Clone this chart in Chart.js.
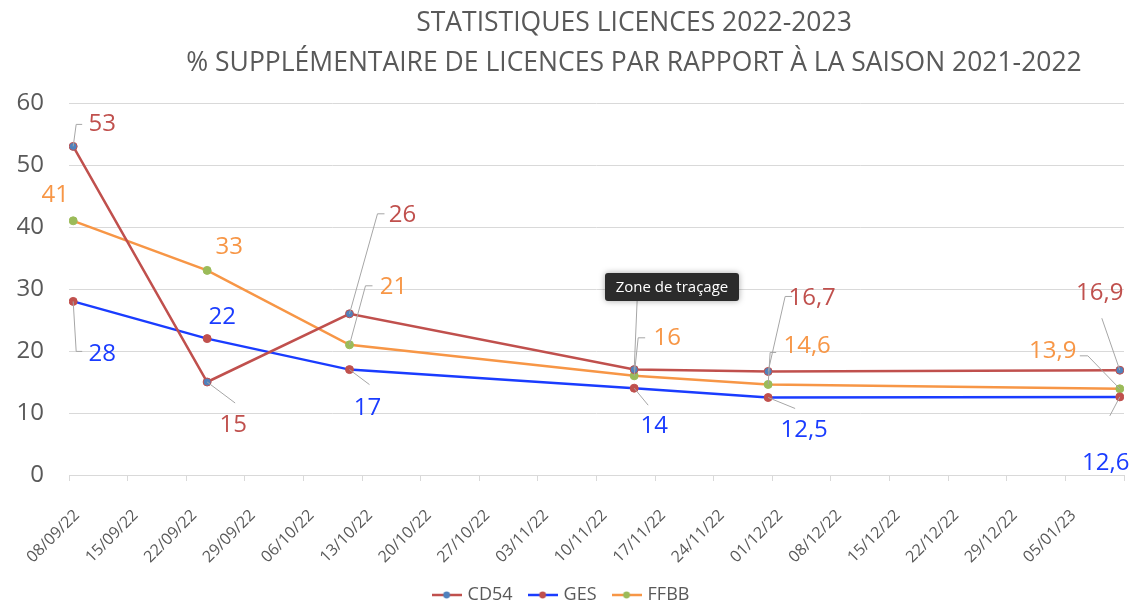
<!DOCTYPE html>
<html lang="fr">
<head>
<meta charset="utf-8">
<title>Statistiques licences 2022-2023</title>
<script src="https://cdn.jsdelivr.net/npm/chart.js@4.4.1/dist/chart.umd.min.js"></script>
<style>
  html, body { margin: 0; padding: 0; background: #fff; }
  #cadre { width: 1137px; height: 602px; position: relative; }
</style>
</head>
<body>
<div id="cadre"><canvas id="graphique"></canvas></div>
<script>
// dates des relevés (axe des dates, pas de 7 jours)
const dates = ['2022-09-08', '2022-09-24', '2022-10-11', '2022-11-14', '2022-11-30', '2023-01-11'];
const cd54 = [53, 15, 26, 17, 16.7, 16.9];
const ges = [28, 22, 17, 14, 12.5, 12.6];
const ffbb = [41, 33, 21, 16, 14.6, 13.9];
const nomsSeries = ['CD54', 'GES', 'FFBB'];
const debutAxe = '2022-09-08';
const finAxe = '2023-01-12';
const titre = ['STATISTIQUES LICENCES 2022-2023', '% SUPPLÉMENTAIRE DE LICENCES PAR RAPPORT À LA SAISON 2021-2022'];
const bulle = 'Zone de traçage';

const JOUR = 86400000;
function jours(d) {
    return (Date.parse(d) - Date.parse(debutAxe)) / JOUR;
}
function formatDate(v) {
    const d = new Date(Date.parse(debutAxe) + v * JOUR);
    const jj = String(d.getUTCDate()).padStart(2, '0');
    const mm = String(d.getUTCMonth() + 1).padStart(2, '0');
    return jj + '/' + mm + '/' + String(d.getUTCFullYear()).slice(2);
}
// Excel place le point au milieu du jour
function points(valeurs) {
    return valeurs.map((v, i) => ({ x: jours(dates[i]) + 0.5, y: v }));
}

const gris = '#595959';
const couleurs = {
    ligne: ['#C0504D', '#1a3cff', '#F79646'],
    point: ['#4F81BD', '#C0504D', '#9BBB59'],
    bordPoint: ['#C0504D', '#C0504D', '#9BBB59'],
    etiquette: ['#C0504D', '#1a3cff', '#F79646']
};

// position des étiquettes (décalage par rapport au point) et traits de rappel
const etiquettes = [
    [
        { dx: 29, dy: -22, lien: [[3, -22], [9, -22]] },
        { dx: 26, dy: 43, lien: [[28, 21]] },
        { dx: 53, dy: -99, lien: [[28, -100], [35, -100]] },
        { dx: 28, dy: -76, lien: [[3, -70], [10, -74]] },
        { dx: 44, dy: -73, lien: [[17, -75], [24, -75]] },
        { dx: -20, dy: -77, lien: [[-18, -52]] }
    ],
    [
        { dx: 29, dy: 53, lien: [[3, 50], [9, 50]] },
        { dx: 15, dy: -21, lien: [] },
        { dx: 18, dy: 39, lien: [[20, 15]] },
        { dx: 20, dy: 38, lien: [[14, 17]] },
        { dx: 36, dy: 33, lien: [[27, 11]] },
        { dx: -14, dy: 66, lien: [[-10, 19]] }
    ],
    [
        { dx: -18, dy: -26, lien: [] },
        { dx: 22, dy: -23, lien: [] },
        { dx: 44, dy: -58, lien: [[16, -59], [23, -59]] },
        { dx: 33, dy: -38, lien: [[4, -38], [11, -38]] },
        { dx: 39, dy: -38, lien: [[2, -32], [8, -32]] },
        { dx: -67, dy: -38, lien: [[-32, -33], [-40, -33]] }
    ]
];

function iconeLegende(ligne, point) {
    const c = document.createElement('canvas');
    c.width = 30; c.height = 10;
    const g = c.getContext('2d');
    g.strokeStyle = ligne; g.lineWidth = 2.5;
    g.beginPath(); g.moveTo(0, 5); g.lineTo(30, 5); g.stroke();
    g.fillStyle = point;
    g.beginPath(); g.arc(15, 5, 3.4, 0, Math.PI * 2); g.fill();
    return c;
}
const icones = [0, 1, 2].map(i => iconeLegende(couleurs.ligne[i], couleurs.point[i]));

const pluginEtiquettes = {
    id: 'etiquettes',
    afterDatasetsDraw(chart) {
        const ctx = chart.ctx;
        ctx.save();
        chart.data.datasets.forEach((ds, i) => {
            const meta = chart.getDatasetMeta(i);
            meta.data.forEach((el, j) => {
                const st = etiquettes[i][j];
                if (st.lien.length) {
                    ctx.strokeStyle = '#a6a6a6';
                    ctx.lineWidth = 1;
                    ctx.beginPath();
                    ctx.moveTo(el.x, el.y);
                    st.lien.forEach(p => ctx.lineTo(el.x + p[0], el.y + p[1]));
                    ctx.stroke();
                }
                ctx.font = '24px "Open Sans"';
                ctx.fillStyle = couleurs.etiquette[i];
                ctx.textAlign = 'center';
                ctx.textBaseline = 'middle';
                ctx.fillText(String(ds.data[j].y).replace('.', ','), el.x + st.dx, el.y + st.dy);
            });
        });
        ctx.restore();
    }
};

const pluginTitre = {
    id: 'titre',
    afterDraw(chart) {
        const ctx = chart.ctx;
        ctx.save();
        ctx.font = '26.5px "Open Sans"';
        ctx.fillStyle = gris;
        ctx.textAlign = 'center';
        ctx.textBaseline = 'middle';
        titre.forEach((t, i) => ctx.fillText(t, 634, 23 + i * 40));

        // bulle d'aide d'Excel restée à l'écran
        const x = 605, y = 273, w = 134, h = 28;
        ctx.shadowColor = 'rgba(0,0,0,0.35)';
        ctx.shadowBlur = 6;
        ctx.fillStyle = '#2b2b2b';
        ctx.beginPath();
        ctx.roundRect(x, y, w, h, 3);
        ctx.fill();
        ctx.shadowBlur = 0;
        ctx.fillStyle = '#ffffff';
        ctx.font = '500 15px "Open Sans"';
        ctx.fillText(bulle, x + w / 2, y + h / 2 + 1);
        ctx.restore();
    }
};

const series = [cd54, ges, ffbb];

new Chart(document.getElementById('graphique'), {
    type: 'line',
    data: {
        datasets: series.map((s, i) => ({
            label: nomsSeries[i],
            data: points(s),
            borderColor: couleurs.ligne[i],
            backgroundColor: couleurs.point[i],
            pointBackgroundColor: couleurs.point[i],
            pointBorderColor: couleurs.bordPoint[i],
            pointBorderWidth: 1,
            pointRadius: 4,
            borderWidth: 2.5,
            tension: 0
        }))
    },
    options: {
        responsive: true,
        maintainAspectRatio: false,
        animation: false,
        layout: { padding: { top: 103, right: 13, left: 0, bottom: -12 } },
        plugins: {
            legend: {
                position: 'bottom',
                labels: {
                    usePointStyle: true,
                    pointStyleWidth: 24,
                    padding: 18,
                    color: gris,
                    font: { family: 'Open Sans', size: 18 },
                    generateLabels(chart) {
                        const items = Chart.defaults.plugins.legend.labels.generateLabels(chart);
                        items.forEach((it, i) => { it.pointStyle = icones[i]; });
                        return items;
                    }
                }
            },
            tooltip: { enabled: false }
        },
        scales: {
            x: {
                type: 'linear',
                min: 0,
                max: jours(finAxe),
                afterFit(s) {
                    s.height = 93;
                    s.paddingLeft = 0;
                    s.paddingRight = 0;
                },
                grid: { drawOnChartArea: false, drawTicks: true, tickLength: 6, color: '#d9d9d9' },
                border: { color: '#d9d9d9' },
                ticks: {
                    stepSize: 7,
                    autoSkip: false,
                    minRotation: 45,
                    maxRotation: 45,
                    padding: 25,
                    labelOffset: 8,
                    color: gris,
                    font: { family: 'Open Sans', size: 16 },
                    callback: (v) => v >= jours(finAxe) ? '' : formatDate(v)
                }
            },
            y: {
                min: 0,
                max: 60,
                afterFit(s) { s.width = 69; },
                grid: { color: '#d9d9d9', drawTicks: false },
                border: { display: false },
                ticks: {
                    stepSize: 10,
                    padding: 25,
                    color: gris,
                    font: { family: 'Open Sans', size: 24 }
                }
            }
        }
    },
    plugins: [pluginEtiquettes, pluginTitre]
});
</script>
</body>
</html>
